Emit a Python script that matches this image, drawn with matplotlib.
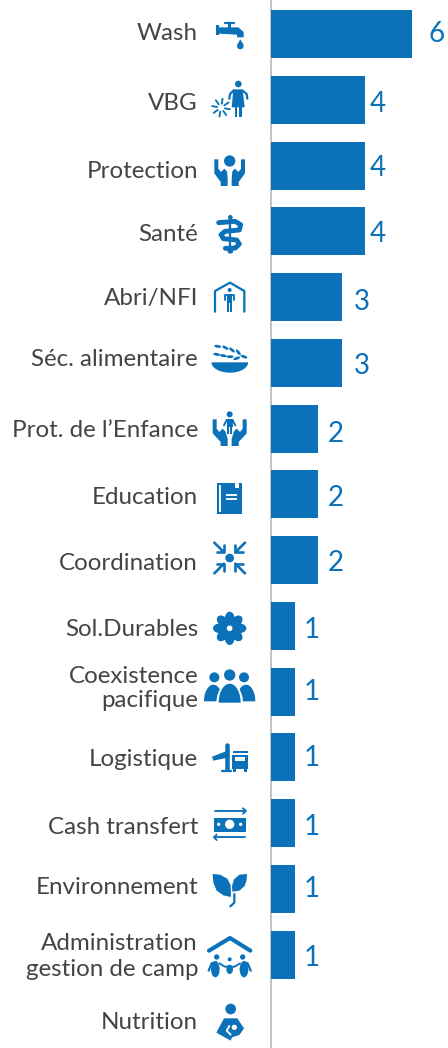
import numpy as np
import matplotlib
matplotlib.use('Agg')
import matplotlib.pyplot as plt
from matplotlib.patches import Circle, Polygon, Rectangle, Ellipse
from matplotlib.transforms import Affine2D

categories = ['Wash', 'VBG', 'Protection', 'Santé', 'Abri/NFI', 'Séc. alimentaire',
              'Prot. de l’Enfance', 'Education', 'Coordination', 'Sol.Durables',
              'Coexistence\npacifique', 'Logistique', 'Cash transfert', 'Environnement',
              'Administration\ngestion de camp', 'Nutrition']
values = [6, 4, 4, 4, 3, 3, 2, 2, 2, 1, 1, 1, 1, 1, 1, None]

# little hand placed shifts seen in the original, in pixels (dx for value, dy for texts)
value_dx = [16, 5, 5, 5, 12, 12, 10, 10, 10, 9, 9, 9, 9, 9, 9, 0]
value_dy = [0, -4, -3, -3, -5, -3, -6, -4, -3, -4, 0, -1, -4, 0, -3, 0]
label_dy = [0, -4, -6, -3, -1, 3, -2, -3, -3, -4, 3, -2, -4, 1, -2, -2]
line_gap = [1, 1, 1, 1, 1, 1, 1, 1, 1, 1, 1.12, 1, 1, 1, 1.3, 1]

BLUE = '#0B72BA'
TEXT = '#444444'
PX_PER_UNIT = 23.5
ROW_H = 65.75
AXIS_X = 271
W, H = 448, 1048

fig = plt.figure(figsize=(W / 100, H / 100), dpi=100)
ax = fig.add_axes([0, 0, 1, 1])
ax.set_xlim(-AXIS_X / PX_PER_UNIT, (W - AXIS_X) / PX_PER_UNIT)
ax.set_ylim((H - 34) / ROW_H, -34 / ROW_H)
ax.axis('off')

y_pos = np.arange(len(categories))
ax.axvline(0, color='#b3b3b3', lw=1.1, zorder=1)
bar_vals = [v if v is not None else 0 for v in values]
ax.barh(y_pos, bar_vals, height=48 / ROW_H, color=BLUE, zorder=2)

for i, cat in enumerate(categories):
    ax.annotate(cat, xy=(0, i), xytext=(198 - AXIS_X, label_dy[i]), textcoords='offset pixels',
                ha='right', va='center', multialignment='right', fontsize=17.4,
                family='Lato', color=TEXT, linespacing=line_gap[i])
    if values[i] is not None:
        ax.annotate(str(values[i]), xy=(values[i], i), xytext=(value_dx[i], value_dy[i]),
                    textcoords='offset pixels', ha='left', va='center', fontsize=20,
                    family='Lato', color=BLUE)

# overlay in pixel coordinates for the pictograms
ov = fig.add_axes([0, 0, 1, 1])
ov.set_xlim(0, W)
ov.set_ylim(H, 0)
ov.axis('off')
ov.patch.set_alpha(0)


def tr(oy):
    return Affine2D().scale(1 / 3).translate(200, oy) + ov.transData


def circ(t, x, y, r, c=BLUE):
    ov.add_patch(Circle((x, y), r, fc=c, ec='none', transform=t))


def poly(t, pts, c=BLUE):
    ov.add_patch(Polygon(pts, closed=True, fc=c, ec='none', transform=t))


def rect(t, x0, y0, x1, y1, c=BLUE):
    ov.add_patch(Rectangle((x0, y0), x1 - x0, y1 - y0, fc=c, ec='none', transform=t))


def stroke(t, pts, w, c=BLUE, cap='round'):
    xs, ys = zip(*pts)
    ov.plot(xs, ys, color=c, lw=w * 0.27, transform=t, solid_capstyle=cap, solid_joinstyle='round')


def dome(t, cx, base, rx, ry, c=BLUE):
    a = np.linspace(0, np.pi, 30)
    poly(t, np.column_stack([cx + rx * np.cos(a), base - ry * np.sin(a)]), c)


def bowl(t, cx, top, rx, ry, c=BLUE):
    a = np.linspace(0, np.pi, 30)
    poly(t, np.column_stack([cx + rx * np.cos(a), top + ry * np.sin(a)]), c)


def hands(t, x0, xm, ytop, ybot):
    for s in (-1, 1):
        f = lambda d: xm + s * d
        d0 = abs(xm - x0)
        poly(t, [(f(d0), ytop), (f(d0 - 12), ytop), (f(d0 - 12), ytop + 28), (f(d0 - 20), ytop + 38),
                 (f(d0 - 30), ytop + 28), (f(d0 - 38), ytop + 36), (f(6), ytop + 58), (f(6), ybot),
                 (f(27), ybot), (f(27), ytop + 68), (f(d0), ytop + 42)])


# crop 1
t = tr(0)
rect(t, 48, 74, 57, 104)
poly(t, [(57, 82), (115, 82), (131, 96), (131, 112), (111, 112), (111, 104), (57, 101)])
stroke(t, [(74, 68), (102, 68)], 6)
stroke(t, [(88, 68), (88, 85)], 8, cap='butt')
circ(t, 121, 138, 10)
poly(t, [(121, 118), (112, 133), (130, 133)])

circ(t, 115, 252, 10)
poly(t, [(100, 268), (128, 268), (134, 322), (95, 322)])
stroke(t, [(100, 272), (90, 282), (88, 296)], 6)
stroke(t, [(128, 272), (140, 282), (142, 296)], 6)
rect(t, 104, 320, 112, 352)
rect(t, 117, 320, 125, 352)
for a in np.deg2rad(np.arange(0, 360, 45) + 10):
    stroke(t, [(63 + 12 * np.cos(a), 323 + 12 * np.sin(a)), (63 + 27 * np.cos(a), 323 + 27 * np.sin(a))], 5)

circ(t, 89, 483, 17)
hands(t, 43, 89, 478, 558)

circ(t, 91, 652, 7)
stroke(t, [(91, 652), (91, 755)], 6)
stroke(t, [(56, 668), (105, 664), (122, 674), (118, 690), (75, 694), (63, 704), (70, 716),
           (110, 720), (118, 732), (106, 744), (76, 745)], 13)
circ(t, 58, 668, 6, 'white')
circ(t, 58, 668, 2.5)
circ(t, 91, 752, 9)

stroke(t, [(45, 935), (45, 873), (90, 848), (133, 873), (133, 935)], 6)
circ(t, 89, 870, 6)
stroke(t, [(75, 900), (75, 886), (103, 886), (103, 900)], 5)
rect(t, 81, 882, 97, 910)
rect(t, 82, 905, 88, 936)
rect(t, 90, 905, 96, 936)

# crop 2
t = tr(340)
bowl(t, 89.5, 67, 55, 31)
for x, y, a in [(53, 19, 10), (76, 23, 30), (96, 30, 40), (115, 37, 50), (50, 43, 10),
                (70, 47, 10), (90, 50, 0), (110, 55, -20), (132, 50, 20)]:
    ov.add_patch(Ellipse((x, y), 21, 8.5, angle=a, fc=BLUE, ec='none', transform=t))

circ(t, 89, 223, 9)
rect(t, 80, 238, 98, 262)
stroke(t, [(72, 256), (80, 240), (98, 240), (106, 256)], 5)
rect(t, 81, 258, 88, 282)
rect(t, 90, 258, 97, 282)
hands(t, 38, 89, 238, 318)

rect(t, 52, 430, 127, 521)
rect(t, 106, 429, 117, 445, 'white')
stroke(t, [(60, 436), (60, 515)], 5, 'white', 'butt')
stroke(t, [(78, 465), (110, 465)], 5, 'white', 'butt')
stroke(t, [(78, 477), (110, 477)], 5, 'white', 'butt')

circ(t, 89, 654, 13)
for sx, sy in [(-1, -1), (1, -1), (-1, 1), (1, 1)]:
    hx, hy = 89 + sx * 17, 654 + sy * 17
    ex, ey = 89 + sx * 46, 654 + sy * 46
    stroke(t, [(ex, ey), (hx, hy)], 7)
    stroke(t, [(hx + sx * 22, hy), (hx, hy), (hx, hy + sy * 22)], 7)

for a in np.arange(0, 360, 45):
    r = np.deg2rad(a)
    ov.add_patch(Ellipse((89 + 29 * np.cos(r), 865 + 29 * np.sin(r)), 42, 29, angle=a,
                         fc=BLUE, ec='none', transform=t))
for a in np.deg2rad(np.arange(0, 360, 90) + 45):
    circ(t, 89 + 5 * np.cos(a), 865 + 5 * np.sin(a), 2.5, 'white')

# coexistence, still in crop 2 coordinates
circ(t, 43, 1012, 15)
circ(t, 132, 1012, 15)
dome(t, 40, 1084, 28, 50)
dome(t, 138, 1084, 28, 50)
circ(t, 89, 1005, 17)
dome(t, 89, 1090, 40, 62, 'white')
dome(t, 89, 1088, 33, 57)

# crop 3
t = tr(700)
stroke(t, [(80, 135), (80, 208)], 12)
poly(t, [(36, 170), (88, 150), (88, 172), (40, 182)])
stroke(t, [(66, 212), (93, 212)], 6)
rect(t, 99, 152, 143, 160)
rect(t, 97, 165, 144, 206)
rect(t, 105, 172, 136, 184, 'white')
rect(t, 100, 206, 108, 215)
rect(t, 132, 206, 140, 215)

stroke(t, [(45, 333), (136, 333)], 5)
stroke(t, [(129, 325), (138, 333), (129, 341)], 5)
rect(t, 41, 353, 138, 395)
circ(t, 89, 373, 14, 'white')
circ(t, 56, 373, 5, 'white')
circ(t, 122, 373, 5, 'white')
stroke(t, [(135, 412), (43, 412)], 5)
stroke(t, [(50, 404), (42, 412), (50, 420)], 5)

poly(t, [(38, 522), (60, 524), (82, 536), (92, 556), (93, 591), (70, 586), (50, 572), (40, 548)])
poly(t, [(141, 522), (118, 524), (102, 538), (96, 558), (97, 575), (118, 572), (134, 558), (140, 540)])
stroke(t, [(103, 582), (103, 608), (91, 619)], 6)

stroke(t, [(27, 752), (90, 714), (151, 752)], 11)
circ(t, 50, 771, 8)
circ(t, 128, 771, 8)
circ(t, 89, 778, 6)
for x in (46, 132):
    ov.add_patch(Ellipse((x, 808), 26, 48, fc=BLUE, ec='none', transform=t))
stroke(t, [(26, 812), (35, 790), (48, 786)], 6)
stroke(t, [(152, 812), (143, 790), (130, 786)], 6)
stroke(t, [(58, 790), (74, 800), (104, 800), (120, 790)], 5)
ov.add_patch(Ellipse((89, 808), 20, 28, fc=BLUE, ec='none', transform=t))

circ(t, 92, 927, 16)
poly(t, [(72, 955), (112, 955), (132, 985), (118, 1005), (96, 1012), (92, 1022), (49, 998)])
circ(t, 103, 982, 8, 'white')
stroke(t, [(88, 978), (80, 992), (92, 1004)], 5, 'white')

fig.savefig('out.png', dpi=100)
